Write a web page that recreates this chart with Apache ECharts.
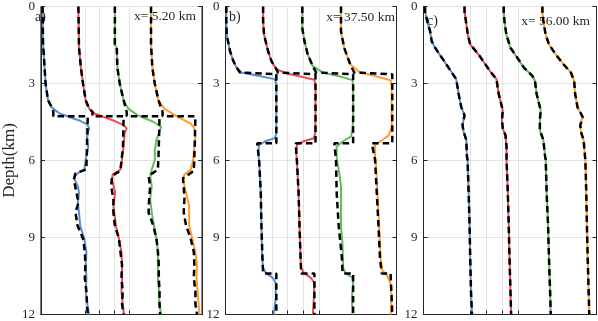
<!DOCTYPE html>
<html>
<head>
<meta charset="utf-8">
<script src="https://cdn.jsdelivr.net/npm/echarts@6/dist/echarts.min.js"></script>
<style>
  html, body { margin: 0; padding: 0; background: #fff; }
  #chart { width: 598px; height: 321px; }
</style>
</head>
<body>
<div id="chart"></div>
<script>
// depth ticks and x grid ticks
const depthTicks = [0, 3, 6, 9, 12]
const xGridTicks = [3, 4, 5, 6]
const panelLabels = ['a)', 'b)', 'c)']
const positionLabels = ['x= 5.20 km', 'x= 37.50 km', 'x= 56.00 km']
const colors = ['#5a8fc8', '#ec4a50', '#64bb5c', '#ff9c33']

// panel a: inverted (solid) and true model (dashed), [value, depth]
const aBlue = [[0.11,0],[0.15,1.48],[0.21,2.0],[0.32,3.02],[0.49,3.66],[0.75,3.94],[1.28,4.17],[2.56,4.43],[3.15,4.58],[3.30,4.75],[3.20,4.94],[3.13,5.2],[3.24,5.46],[3.10,5.84],[3.06,5.97],[2.96,6.35],[2.47,6.51],[2.25,6.67],[2.52,7.0],[2.60,7.25],[2.52,7.64],[2.60,8.02],[2.68,8.53],[2.96,9.05],[3.11,9.56],[3.06,10.07],[3.11,10.58],[3.06,11.1],[3.17,11.6],[3.28,12]]
const aBlueModel = [[0.11,0],[0.15,1.48],[0.21,2.0],[0.32,3.02],[0.49,3.66],[0.75,3.94],[0.85,4.11],[0.85,4.28],[3.2,4.28],[3.15,5.5],[3.1,6.35],[2.36,6.5],[2.25,6.74],[2.43,7.25],[2.57,7.64],[2.36,8.02],[2.5,8.53],[2.88,9.05],[3.0,9.56],[3.04,10.07],[3.0,10.58],[3.11,11.1],[3.15,11.6],[3.2,12]]
const aRed = [[2.56,0],[2.6,1.6],[2.73,2.38],[2.88,3.02],[3.06,3.66],[3.3,3.98],[3.67,4.17],[4.9,4.43],[5.65,4.62],[5.86,4.75],[5.71,4.94],[5.65,5.46],[5.54,5.84],[5.54,5.97],[5.43,6.35],[4.9,6.55],[4.86,6.74],[5.07,7.25],[4.95,7.77],[5.12,8.53],[5.33,9.05],[5.5,9.56],[5.54,10.07],[5.54,10.58],[5.5,11.1],[5.59,11.6],[5.67,12]]
const aRedModel = [[2.56,0],[2.6,1.6],[2.73,2.38],[2.88,3.02],[3.06,3.66],[3.3,3.98],[3.52,4.11],[3.52,4.28],[5.65,4.28],[5.6,5.5],[5.43,6.4],[4.86,6.6],[4.8,7.0],[4.95,7.51],[4.95,8.02],[5.05,8.53],[5.33,9.05],[5.43,9.56],[5.54,10.07],[5.5,10.58],[5.59,11.1],[5.54,11.6],[5.65,12]]
const aGreen = [[5.05,0],[5.05,1.48],[5.18,1.6],[5.22,2.38],[5.39,3.02],[5.65,3.66],[5.97,3.98],[6.61,4.24],[7.67,4.49],[8.21,4.69],[8.1,4.88],[7.89,5.2],[7.78,5.59],[7.78,5.97],[7.57,6.35],[7.46,6.6],[7.57,7.0],[7.46,7.51],[7.57,8.02],[7.72,8.53],[7.89,9.05],[7.99,9.56],[7.99,10.07],[7.99,10.58],[8.06,11.1],[8.1,11.6],[8.21,12]]
const aGreenModel = [[5.05,0],[5.05,1.48],[5.18,1.6],[5.22,2.38],[5.39,3.02],[5.65,3.66],[5.86,4.11],[5.86,4.28],[8.1,4.28],[8.05,5.5],[7.99,6.35],[7.35,6.6],[7.46,7.0],[7.39,7.51],[7.35,8.02],[7.67,8.53],[7.89,9.05],[7.99,9.56],[8.05,10.07],[8.05,10.58],[8.1,11.1],[8.1,11.6],[8.14,12]]
const aOrange = [[7.52,0],[7.52,1.48],[7.61,2.38],[7.78,3.02],[8.03,3.66],[8.42,3.98],[9.16,4.24],[10.23,4.56],[10.49,4.75],[10.55,5.2],[10.45,5.59],[10.4,5.97],[10.23,6.35],[9.8,6.55],[9.7,6.74],[9.91,7.25],[10.12,7.77],[10.12,8.53],[10.34,9.05],[10.55,9.56],[10.66,10.07],[10.62,10.58],[10.7,11.1],[10.77,11.6],[10.83,12]]
const aOrangeModel = [[7.52,0],[7.52,1.48],[7.61,2.38],[7.78,3.02],[8.03,3.66],[8.31,4.11],[8.31,4.28],[10.55,4.28],[10.5,5.5],[10.44,6.4],[9.7,6.7],[9.75,7.0],[9.8,7.51],[9.75,8.02],[9.91,8.53],[10.23,9.05],[10.44,9.56],[10.48,10.07],[10.44,10.58],[10.55,11.1],[10.55,11.6],[10.66,12]]

// panel b
const bBlue = [[0.05,0],[0.05,0.58],[0.08,1.1],[0.29,1.74],[0.5,2.12],[0.71,2.38],[1.03,2.57],[2.1,2.7],[3.17,2.83],[3.27,3.02],[3.27,4.3],[3.27,4.94],[3.17,5.13],[2.53,5.26],[2.16,5.39],[2.1,5.71],[2.16,5.97],[2.27,7.25],[2.31,8.53],[2.36,9.82],[2.42,10.2],[2.63,10.4],[3.06,10.58],[3.23,10.78],[3.23,11.35],[3.1,12]]
const bBlueModel = [[0.05,0],[0.05,0.58],[0.08,1.1],[0.29,1.74],[0.5,2.12],[0.71,2.38],[0.93,2.57],[0.93,2.64],[3.27,2.64],[3.27,5.33],[2.04,5.33],[2.16,5.97],[2.27,7.25],[2.31,8.53],[2.38,9.82],[2.42,10.4],[3.27,10.4],[3.27,12]]
const bRed = [[2.42,0],[2.42,0.58],[2.48,1.1],[2.74,1.74],[2.95,2.12],[3.27,2.44],[3.91,2.6],[4.76,2.72],[5.72,2.85],[5.79,3.12],[5.79,4.3],[5.77,4.94],[5.68,5.13],[4.98,5.26],[4.59,5.39],[4.55,5.71],[4.59,5.97],[4.7,7.25],[4.76,8.53],[4.83,9.82],[4.87,10.2],[5.08,10.4],[5.51,10.58],[5.72,10.78],[5.68,11.35],[5.62,12]]
const bRedModel = [[2.42,0],[2.42,0.58],[2.48,1.1],[2.74,1.74],[2.95,2.12],[3.27,2.44],[3.38,2.57],[3.38,2.64],[5.79,2.64],[5.79,5.33],[4.51,5.33],[4.59,5.97],[4.7,7.25],[4.76,8.53],[4.83,9.82],[4.87,10.4],[5.72,10.4],[5.72,12]]
const bGreen = [[4.94,0],[4.94,0.84],[5.08,1.36],[5.29,1.87],[5.61,2.32],[6.25,2.57],[7.32,2.72],[8.17,2.87],[8.21,3.12],[8.21,4.3],[8.17,4.81],[8.07,5.07],[7.53,5.26],[7.15,5.46],[7.15,5.84],[7.17,5.97],[7.32,6.5],[7.43,7.0],[7.43,8.53],[7.53,9.3],[7.57,10.2],[7.75,10.4],[8.17,10.58],[8.21,10.8],[8.13,11.35],[8.17,12]]
const bGreenModel = [[4.94,0],[4.94,0.84],[5.08,1.36],[5.29,1.87],[5.61,2.32],[5.83,2.57],[5.83,2.64],[8.21,2.64],[8.21,5.33],[7.0,5.33],[7.11,5.97],[7.15,7.25],[7.28,8.53],[7.49,9.82],[7.53,10.4],[8.21,10.4],[8.21,12]]
const bOrange = [[7.43,0],[7.43,0.97],[7.64,1.62],[8.02,2.25],[8.6,2.54],[9.66,2.72],[10.62,2.87],[10.69,3.12],[10.69,4.69],[10.51,5.01],[10.09,5.2],[9.62,5.39],[9.62,5.84],[9.66,5.97],[9.77,7.25],[9.88,8.53],[9.98,9.82],[10.09,10.28],[10.41,10.5],[10.62,10.8],[10.69,11.35],[10.62,12]]
const bOrangeModel = [[7.43,0],[7.43,0.97],[7.64,1.62],[8.02,2.25],[8.28,2.57],[8.28,2.64],[10.73,2.64],[10.73,5.33],[9.41,5.33],[9.62,5.97],[9.73,7.25],[9.84,8.53],[9.94,9.82],[10.05,10.4],[10.62,10.4],[10.73,12]]

// panel c (model and result nearly identical)
const cBlue = [[0.1,0],[0.1,0.2],[0.24,0.58],[0.42,0.97],[0.52,1.35],[0.74,1.61],[1.16,1.99],[1.59,2.38],[1.87,2.64],[2.08,2.83],[2.23,3.4],[2.4,3.92],[2.61,4.24],[2.48,4.62],[2.55,4.88],[2.72,5.2],[2.76,5.84],[2.8,5.97],[2.87,7.25],[2.93,8.53],[2.97,9.82],[3.02,11.1],[3.08,12]]
const cRed = [[2.61,0],[2.61,0.2],[2.7,0.58],[2.82,1.1],[2.97,1.48],[3.5,1.87],[3.93,2.25],[4.29,2.57],[4.64,2.83],[4.78,3.4],[5.04,4.04],[4.99,4.43],[5.04,4.75],[5.21,5.01],[5.28,5.46],[5.28,5.97],[5.36,7.25],[5.42,8.53],[5.47,9.82],[5.53,11.1],[5.57,12]]
const cGreen = [[5.1,0],[5.1,0.2],[5.15,0.58],[5.27,1.1],[5.53,1.61],[5.96,1.99],[6.38,2.38],[6.92,2.7],[7.09,2.9],[7.19,3.4],[7.45,4.04],[7.4,4.43],[7.4,4.82],[7.62,5.2],[7.73,5.84],[7.77,5.97],[7.83,7.25],[7.92,8.53],[7.98,9.82],[8.05,11.1],[8.09,12]]
const cOrange = [[7.56,0],[7.56,0.2],[7.62,0.58],[7.77,1.1],[7.98,1.48],[8.41,1.87],[8.9,2.25],[9.37,2.57],[9.58,2.9],[9.64,3.4],[9.79,3.92],[10.12,4.3],[9.97,4.62],[10.01,4.88],[10.18,5.2],[10.27,5.84],[10.29,5.97],[10.35,7.25],[10.39,8.53],[10.44,9.82],[10.5,11.1],[10.54,12]]

const panels = [
  { solid: [aBlue, aRed, aGreen, aOrange], dashed: [aBlueModel, aRedModel, aGreenModel, aOrangeModel] },
  { solid: [bBlue, bRed, bGreen, bOrange], dashed: [bBlueModel, bRedModel, bGreenModel, bOrangeModel] },
  { solid: [cBlue, cRed, cGreen, cOrange], dashed: [cBlue, cRed, cGreen, cOrange] }
]

const font = '"Liberation Serif", "DejaVu Serif", serif'
const ink = '#262626'
const gridBoxes = [
  { left: 30, top: 4.5, width: 172, height: 312 },
  { left: 225.5, top: 4.5, width: 171, height: 312 },
  { left: 423.5, top: 6.5, width: 173, height: 310 }
]

const grids = gridBoxes.map(g => ({ ...g, show: true, borderColor: ink, borderWidth: 1, containLabel: false }))

const xAxes = gridBoxes.map((g, i) => ({
  type: 'value', gridIndex: i, min: 0, max: 11,
  axisLine: { show: true, onZero: false, lineStyle: { color: ink } },
  axisLabel: { show: false },
  axisTick: { show: true, inside: true, length: 4, customValues: xGridTicks, lineStyle: { color: ink } },
  splitLine: { show: true, lineStyle: { color: '#e3e3e3', width: 1 } }
}))

const yAxes = []
gridBoxes.forEach((g, i) => {
  yAxes.push({
    type: 'value', gridIndex: i, min: 0, max: 12, interval: 3, inverse: true,
    name: i === 0 ? 'Depth(km)' : '',
    nameLocation: 'middle', nameGap: 17, nameRotate: 90,
    nameTextStyle: { fontFamily: font, fontSize: 17, color: ink },
    axisLine: { show: true, lineStyle: { color: ink } },
    axisTick: { show: true, inside: true, length: 4, lineStyle: { color: ink } },
    axisLabel: { show: true, fontFamily: font, fontSize: 13, color: ink, margin: 6,
      customValues: depthTicks },
    splitLine: { show: true, lineStyle: { color: '#e3e3e3', width: 1 } }
  })
  yAxes.push({
    type: 'value', gridIndex: i, min: 0, max: 12, interval: 3, inverse: true, position: 'right',
    axisLine: { show: true, lineStyle: { color: ink } },
    axisTick: { show: true, inside: true, length: 4, lineStyle: { color: ink } },
    axisLabel: { show: false },
    splitLine: { show: false }
  })
})

const series = []
panels.forEach((p, i) => {
  p.solid.forEach((d, k) => {
    series.push({
      type: 'line', xAxisIndex: i, yAxisIndex: i * 2, data: d,
      showSymbol: false, silent: true, z: 3,
      lineStyle: { color: colors[k], width: 2 }
    })
  })
  p.dashed.forEach((d, k) => {
    series.push({
      type: 'line', xAxisIndex: i, yAxisIndex: i * 2, data: d,
      showSymbol: false, silent: true, z: 4,
      lineStyle: { color: '#000', width: 2.5, type: [6.5, 4] }
    })
  })
})

const panelLabelPos = [[35, 10], [229, 10], [427, 14]]
const positionLabelPos = [[196, 9], [395, 10], [590, 14]]
const graphics = []
panelLabels.forEach((t, i) => {
  graphics.push({ type: 'text', left: panelLabelPos[i][0], top: panelLabelPos[i][1], z: 1,
    style: { text: t, font: '14px ' + font, fill: ink } })
  graphics.push({ type: 'text', x: positionLabelPos[i][0], y: positionLabelPos[i][1], z: 1,
    style: { text: positionLabels[i], font: '13.5px ' + font, fill: ink, align: 'right', verticalAlign: 'top' } })
})

const chart = echarts.init(document.getElementById('chart'), null, { renderer: 'canvas' })
chart.setOption({
  animation: false,
  backgroundColor: '#fff',
  grid: grids,
  xAxis: xAxes,
  yAxis: yAxes,
  series: series,
  graphic: graphics
})
</script>
</body>
</html>
